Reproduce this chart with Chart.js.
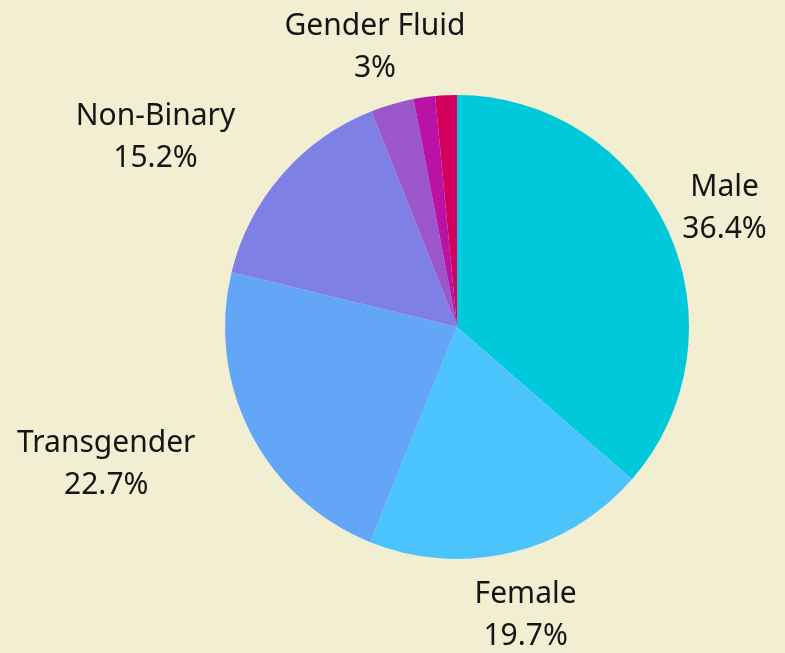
<!DOCTYPE html>
<html>
<head>
<meta charset="utf-8">
<script src="https://cdn.jsdelivr.net/npm/chart.js@4"></script>
<style>
    html, body { margin: 0; padding: 0; background: #f1eed2; }
    canvas { display: block; }
</style>
</head>
<body>
<canvas id="pieChart" width="785" height="653"></canvas>
<script>
const genders = ['Male', 'Female', 'Transgender', 'Non-Binary', 'Gender Fluid', 'Agender', 'Other'];
const shares = [36.4, 19.7, 22.7, 15.2, 3, 1.5, 1.5];
const sliceColors = ['#00c9dc', '#4bc3fd', '#63a6f8', '#7f80e6', '#9c56cc', '#b913a6', '#d4005e'];

document.addEventListener("DOMContentLoaded", function () {
    const pieCtx = document.getElementById('pieChart').getContext('2d');

    // draws "name / value%" outside each slice (small slices get no label)
    const outsideLabels = {
        id: 'outsideLabels',
        afterDatasetsDraw(chart) {
            const ctx = chart.ctx;
            const meta = chart.getDatasetMeta(0);
            ctx.save();
            ctx.font = '30px "Noto Sans"';
            ctx.fillStyle = '#151515';
            ctx.textBaseline = 'middle';
            ctx.textAlign = 'center';
            meta.data.forEach((arc, i) => {
                const value = shares[i];
                if (value < 2) return;
                const mid = (arc.startAngle + arc.endAngle) / 2;
                const dx = Math.cos(mid), dy = Math.sin(mid);
                const dist = arc.outerRadius + 62;
                let x = arc.x + dx * dist;
                const y = arc.y + dy * dist + 3;
                const lines = [genders[i], value + '%'];
                // left-side labels hang off their right edge
                if (dx < -0.5) {
                    const w = Math.max(...lines.map(l => ctx.measureText(l).width));
                    x -= w / 2;
                }
                ctx.fillText(lines[0], x, y - 21);
                ctx.fillText(lines[1], x, y + 21);
            });
            ctx.restore();
        }
    };

    new Chart(pieCtx, {
        type: 'pie',
        data: {
            labels: genders,
            datasets: [{ data: shares, backgroundColor: sliceColors, borderWidth: 0 }]
        },
        options: {
            responsive: false,
            animation: false,
            layout: { padding: { top: 95, bottom: 94, left: 225, right: 96 } },
            plugins: {
                legend: { display: false },
                tooltip: { enabled: false }
            }
        },
        plugins: [outsideLabels]
    });
});
</script>
</body>
</html>
